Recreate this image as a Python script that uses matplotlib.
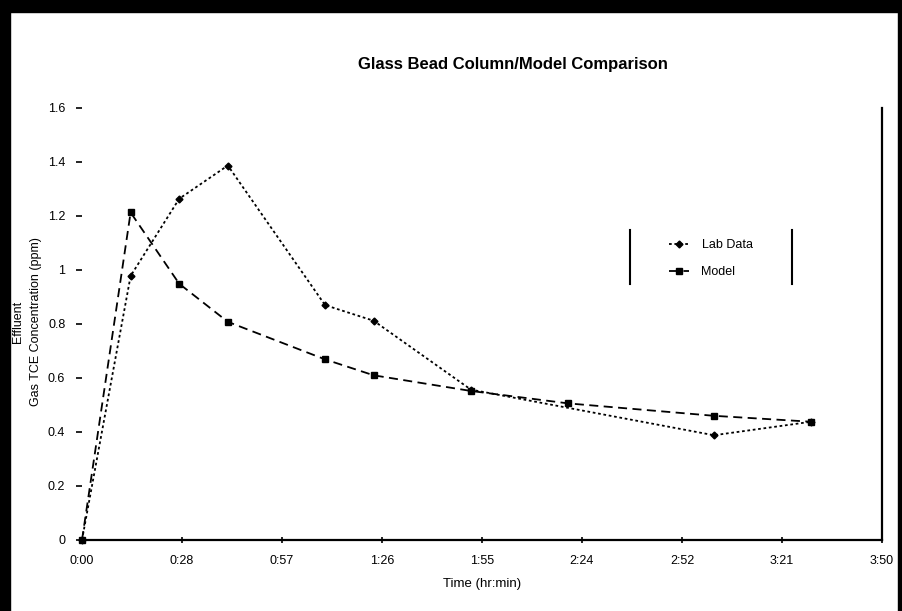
import matplotlib
matplotlib.use("Agg")
import matplotlib.pyplot as plt
from matplotlib.ticker import FuncFormatter, MultipleLocator
from matplotlib.lines import Line2D
from matplotlib.patches import Rectangle

plt.rcParams['font.family'] = ['Liberation Sans', 'DejaVu Sans']

# data
lab_times = ["0:00", "0:14", "0:28", "0:42", "1:10", "1:24", "1:52", "3:02", "3:30"]
lab_conc = [0.0, 0.978, 1.264, 1.387, 0.870, 0.812, 0.557, 0.388, 0.438]
model_times = ["0:00", "0:14", "0:28", "0:42", "1:10", "1:24", "1:52", "2:20", "3:02", "3:30"]
model_conc = [0.0, 1.213, 0.949, 0.808, 0.669, 0.610, 0.552, 0.506, 0.460, 0.438]
title = "Glass Bead Column/Model Comparison"
xlabel = "Time (hr:min)"
ylabel = "Effluent\nGas TCE Concentration (ppm)"


def to_days(t):
    h, m = t.split(":")
    return (int(h) * 60 + int(m)) / 1440.0


lab_x = [to_days(t) for t in lab_times]
model_x = [to_days(t) for t in model_times]

W, H = 903, 611
fig = plt.figure(figsize=(W / 100, H / 100), dpi=100)
fig.patch.set_facecolor("white")

# axes placement (pixels)
x0, x1 = 82, 882
y_bot, y_top = 540, 108
ax = fig.add_axes([x0 / W, (H - y_bot) / H, (x1 - x0) / W, (y_bot - y_top) / H])
ax.set_facecolor("white")

ax.plot(lab_x, lab_conc, color="black", linestyle=(0, (1.5, 1.5)), linewidth=1.3,
        marker="D", markersize=3.5, label="Lab Data", clip_on=False, zorder=3)
ax.plot(model_x, model_conc, color="black", linestyle=(0, (5, 3)), linewidth=1.3,
        marker="s", markersize=5, label="Model", clip_on=False, zorder=3)

ax.set_xlim(0, 0.16)
ax.set_ylim(0, 1.6)
ax.xaxis.set_major_locator(MultipleLocator(0.02))
ax.yaxis.set_major_locator(MultipleLocator(0.2))


def fmt_time(v, pos):
    mins = int(round(v * 1440 * 10)) // 10
    return "%d:%02d" % (mins // 60, mins % 60)


def fmt_y(v, pos):
    s = "%.1f" % v
    if s.endswith(".0"):
        s = s[:-2]
    return s


ax.xaxis.set_major_formatter(FuncFormatter(fmt_time))
ax.yaxis.set_major_formatter(FuncFormatter(fmt_y))

ax.spines["top"].set_visible(False)
ax.spines["left"].set_visible(False)
ax.spines["bottom"].set_linewidth(1.6)
ax.spines["right"].set_linewidth(1.6)
ax.tick_params(axis="x", direction="inout", length=5, width=1.2, labelsize=9, pad=8)
ax.tick_params(axis="y", direction="out", length=4, width=1.2, labelsize=9, pad=8)

ax.set_xlabel(xlabel, fontsize=9.5, labelpad=8)
fig.text(27 / W, 1 - 322 / H, ylabel, rotation=90, ha="center", va="center",
         fontsize=9, linespacing=1.7, multialignment="center")

fig.text(513 / W, 1 - 64 / H, title, ha="center", va="center",
         fontsize=12, fontweight="bold")

leg = ax.legend(loc="upper left", bbox_to_anchor=((664 - x0) / (x1 - x0), (y_bot - 234) / (y_bot - y_top)),
                frameon=False, fontsize=9, handlelength=1.6, labelspacing=1.2,
                borderaxespad=0, handletextpad=1.0)

# legend side bars
for xp in (630, 792):
    fig.add_artist(Line2D([xp / W, xp / W], [1 - 230 / H, 1 - 284 / H],
                          color="black", linewidth=1.5))

# scanned black frame
fig.add_artist(Rectangle((0, 1 - 12 / H), 1, 12 / H, transform=fig.transFigure,
                         color="black", zorder=10))
fig.add_artist(Rectangle((0, 0), 10 / W, 1, transform=fig.transFigure,
                         color="black", zorder=10))
fig.add_artist(Rectangle((1 - 5 / W, 0), 5 / W, 1, transform=fig.transFigure,
                         color="black", zorder=10))

fig.savefig("out.png", dpi=100, facecolor="white")
